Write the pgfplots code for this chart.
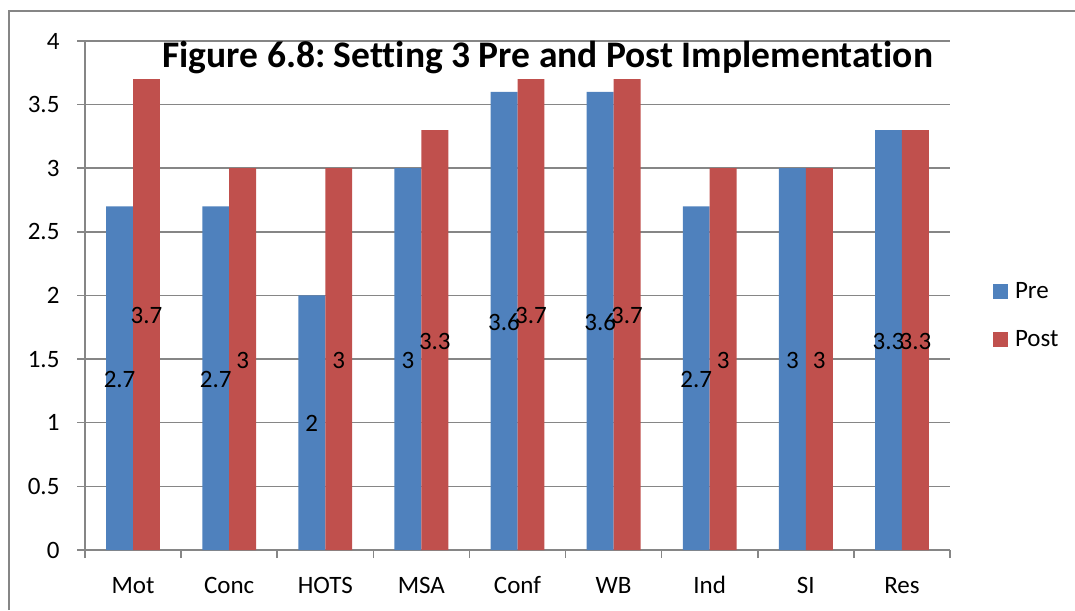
\documentclass[border=0pt]{standalone}
\usepackage{fontspec}
\setmainfont{Carlito}[Ligatures={NoCommon}]
\frenchspacing
\usepackage{pgfplots}
\pgfplotsset{compat=1.18}
\definecolor{preblue}{HTML}{4F81BD}
\definecolor{postred}{HTML}{C0504D}
\definecolor{gridgray}{HTML}{868686}
\begin{document}
\begin{tikzpicture}
\path[use as bounding box] (0,0) rectangle (1075pt,610pt);
\draw[gridgray, line width=1.5pt] (9pt,0pt) -- (9pt,599pt) -- (1080pt,599pt);
\begin{axis}[
  at={(85pt,60pt)}, anchor=south west, scale only axis,
  width=865pt, height=509pt,
  ybar,
  ymin=0, ymax=4, ytick={0,0.5,...,4},
  xmin=-0.5, xmax=8.5,
  xtick={-0.5,0.5,...,8.5}, xticklabels={},
  extra x ticks={0,1,2,3,4,5,6,7,8},
  extra x tick labels={Mot,Conc,HOTS,MSA,Conf,WB,Ind,SI,Res},
  extra x tick style={major tick length=0pt, grid=none},
  axis x line*=bottom, axis y line*=left,
  axis line style={gridgray, line width=1.5pt},
  tick style={gridgray, line width=1.5pt},
  tick align=outside, major tick length=8pt,
  ymajorgrids, grid style={gridgray, line width=1.5pt},
  font=\fontsize{25pt}{30pt}\selectfont,
  ticklabel style={font=\fontsize{25pt}{30pt}\selectfont},
  xticklabel style={anchor=base, yshift=-43pt},
  yticklabel style={xshift=-14pt},
  /pgf/number format/assume math mode=true,
  legend cell align=left,
  legend style={at={(1.046,0.461)}, anchor=west, draw=none, fill=none,
    font=\fontsize{25pt}{30pt}\selectfont, row sep=27pt},
  legend image code/.code={\fill[#1] (0pt,-7.5pt) rectangle (15pt,7.5pt); \path (20pt,0pt);},
  visualization depends on=rawy \as \rawy,
  nodes near coords={\pgfmathprintnumber{\pgfplotspointmeta}},
  nodes near coords style={anchor=center, inner sep=0pt, yshift={-\rawy*63.625pt-1pt},
    font=\fontsize{25pt}{30pt}\selectfont, text=black},
]
\addplot[fill=preblue, draw=none, bar width=0.28, bar shift=-0.14]
  coordinates {(0,2.7) (1,2.7) (2,2) (3,3) (4,3.6) (5,3.6) (6,2.7) (7,3) (8,3.3)};
\addplot[fill=postred, draw=none, bar width=0.28, bar shift=0.14]
  coordinates {(0,3.7) (1,3) (2,3) (3,3.3) (4,3.7) (5,3.7) (6,3) (7,3) (8,3.3)};
\legend{Pre,Post}
\node[font=\bfseries\fontsize{37.5pt}{42pt}\selectfont, anchor=center]
  at (axis description cs:0.535,0.967) {Figure 6.8: Setting 3 Pre and Post Implementation};
\end{axis}
\end{tikzpicture}
\end{document}
